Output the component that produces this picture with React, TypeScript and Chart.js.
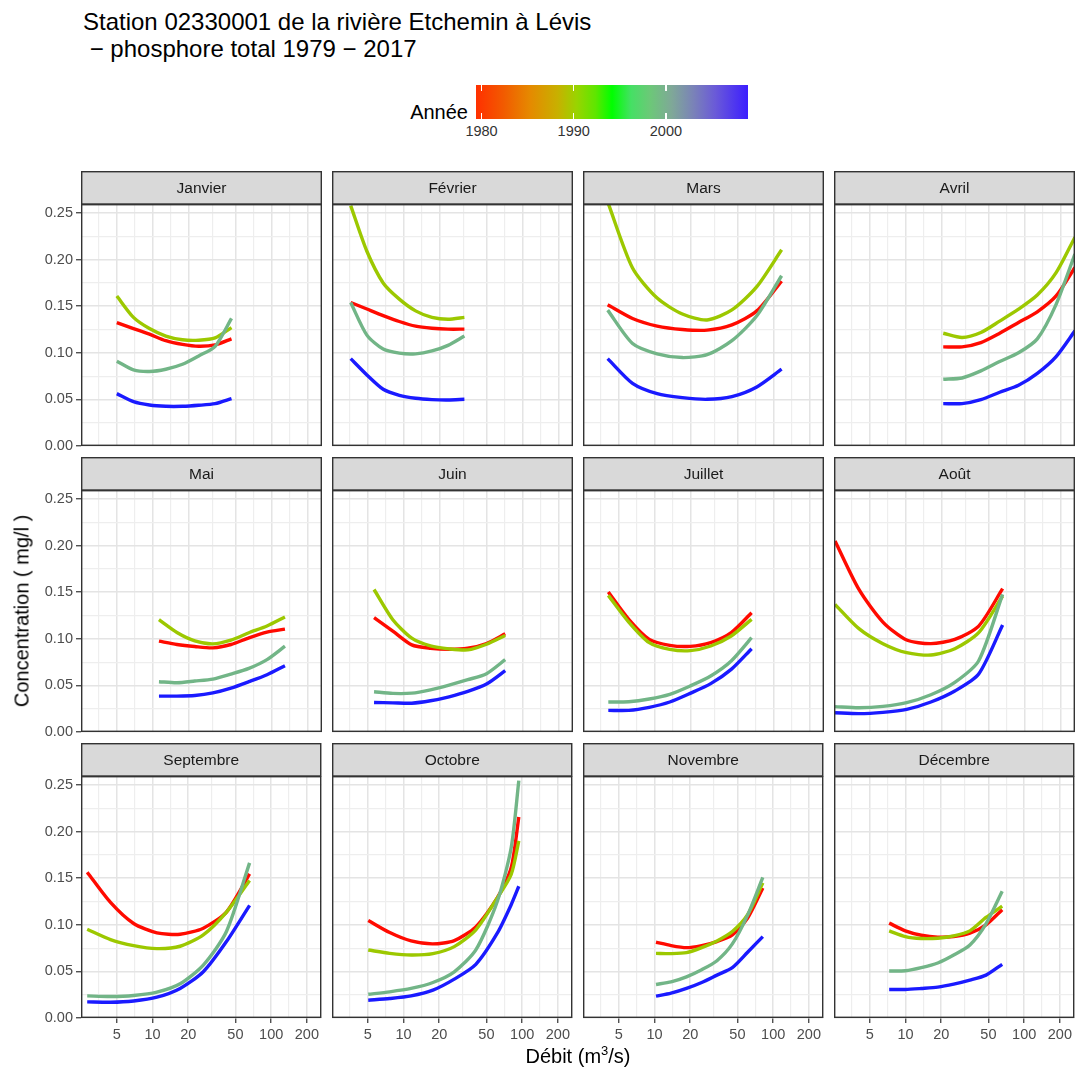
import React, { useEffect, useRef } from 'react';
import { Chart, registerables } from 'chart.js';

Chart.register(...registerables);

const FONT = "'Liberation Sans', Arial, Helvetica, sans-serif";

// ---------------- data ----------------
const months = ['Janvier', 'Février', 'Mars', 'Avril', 'Mai', 'Juin', 'Juillet', 'Août', 'Septembre', 'Octobre', 'Novembre', 'Décembre'];
const years = [1979, 1989, 1999, 2009];
const yearColors = ['#ff0a00', '#9cc800', '#72b587', '#1a1aff'];

const xMajorTicks = [5, 10, 20, 50, 100, 200];
const xMinorBreaks = [3.54, 7.07, 14.1, 31.6, 70.7, 141];
const yMajorTicks = [0, 0.05, 0.1, 0.15, 0.2, 0.25];
const yMinorBreaks = [0.025, 0.075, 0.125, 0.175, 0.225];
const legendTicks = [1980, 1990, 2000];
const legendRange = [1979.4, 2008.9];

// débit (m3/s), one list per month
const debit = [
  [5.0, 6.9, 9.4, 12.9, 17.8, 24.4, 33.5, 46.0],
  [3.59, 4.91, 6.73, 9.2, 12.6, 17.3, 23.6, 32.4],
  [4.03, 6.52, 10.5, 17.1, 27.6, 44.6, 72.2, 116.7],
  [20.7, 29.8, 42.9, 61.7, 88.8, 127.8, 183.9, 264.6],
  [11.3, 16.0, 22.6, 32.1, 45.5, 64.4, 91.4, 129.4],
  [5.64, 8.11, 11.7, 16.8, 24.1, 34.6, 49.7, 71.4],
  [4.08, 6.06, 9.01, 13.4, 19.9, 29.6, 44.0, 65.3],
  [2.55, 4.05, 6.44, 10.2, 16.3, 25.9, 41.1, 65.3],
  [2.82, 4.43, 6.94, 10.9, 17.1, 26.8, 42.0, 65.8],
  [5.05, 7.66, 11.6, 17.7, 26.8, 40.7, 61.7, 80.8, 93.7],
  [10.3, 13.8, 18.6, 25.0, 33.6, 45.3, 60.9, 81.8],
  [7.29, 9.97, 13.6, 18.7, 25.5, 34.9, 47.7, 65.3],
];

// concentration (mg/l) for 1979
const conc1979 = [
  [0.1325, 0.126, 0.120, 0.113, 0.109, 0.107, 0.1085, 0.115],
  [0.154, 0.147, 0.140, 0.1336, 0.1286, 0.1264, 0.1254, 0.1254],
  [0.1515, 0.1368, 0.1286, 0.125, 0.1243, 0.130, 0.145, 0.177],
  [0.1064, 0.1064, 0.111, 0.121, 0.1325, 0.144, 0.161, 0.1916],
  [0.0975, 0.0939, 0.0917, 0.0903, 0.0939, 0.1011, 0.1072, 0.1104],
  [0.1227, 0.1083, 0.0935, 0.0899, 0.0888, 0.0899, 0.095, 0.1054],
  [0.1502, 0.1209, 0.0994, 0.093, 0.0919, 0.0959, 0.1066, 0.128],
  [0.205, 0.153, 0.118, 0.0987, 0.0948, 0.0994, 0.1137, 0.1538],
  [0.1565, 0.124, 0.1014, 0.0914, 0.0899, 0.0964, 0.1137, 0.1547],
  [0.1047, 0.0917, 0.0827, 0.0795, 0.0831, 0.0978, 0.1288, 0.1612, 0.2158],
  [0.0813, 0.0777, 0.0755, 0.0777, 0.082, 0.0892, 0.1072, 0.1396],
  [0.1018, 0.0935, 0.0888, 0.0867, 0.0874, 0.091, 0.100, 0.1162],
];

// concentration (mg/l) for 1989
const conc1989 = [
  [0.161, 0.138, 0.126, 0.118, 0.114, 0.1135, 0.116, 0.127],
  [0.258, 0.209, 0.175, 0.1576, 0.145, 0.138, 0.136, 0.138],
  [0.262, 0.191, 0.1587, 0.1416, 0.1352, 0.146, 0.171, 0.2106],
  [0.121, 0.1164, 0.1218, 0.134, 0.1468, 0.162, 0.186, 0.224],
  [0.1205, 0.1068, 0.0978, 0.0946, 0.0986, 0.1065, 0.1137, 0.1234],
  [0.1529, 0.1205, 0.1007, 0.0924, 0.0892, 0.0881, 0.0942, 0.1036],
  [0.1466, 0.118, 0.0959, 0.0887, 0.0873, 0.0923, 0.103, 0.1209],
  [0.137, 0.1109, 0.0948, 0.0851, 0.0826, 0.0894, 0.1066, 0.1459],
  [0.0953, 0.0842, 0.0777, 0.0745, 0.077, 0.0892, 0.1137, 0.1475],
  [0.073, 0.0694, 0.0676, 0.0691, 0.0766, 0.0946, 0.1288, 0.154, 0.190],
  [0.0694, 0.0691, 0.0701, 0.0755, 0.0827, 0.0928, 0.1108, 0.145],
  [0.0935, 0.0874, 0.0853, 0.0856, 0.0881, 0.0935, 0.1079, 0.12],
];

// concentration (mg/l) for 1999
const conc1999 = [
  [0.091, 0.0817, 0.080, 0.0824, 0.0877, 0.0967, 0.107, 0.137],
  [0.154, 0.119, 0.104, 0.0996, 0.0989, 0.102, 0.108, 0.118],
  [0.1458, 0.110, 0.0989, 0.0949, 0.098, 0.113, 0.1397, 0.1827],
  [0.0716, 0.073, 0.0806, 0.0906, 0.100, 0.115, 0.152, 0.206],
  [0.054, 0.0529, 0.0547, 0.0568, 0.0622, 0.0683, 0.0777, 0.0921],
  [0.0432, 0.0414, 0.0417, 0.0453, 0.0504, 0.0561, 0.0626, 0.0777],
  [0.0322, 0.0325, 0.0354, 0.0404, 0.0494, 0.0601, 0.0762, 0.1012],
  [0.0272, 0.0261, 0.0275, 0.0315, 0.04, 0.0533, 0.0765, 0.1477],
  [0.0237, 0.023, 0.0241, 0.0277, 0.0367, 0.0568, 0.0928, 0.1665],
  [0.0255, 0.0281, 0.0317, 0.0381, 0.0496, 0.073, 0.125, 0.1827, 0.2547],
  [0.036, 0.0388, 0.0442, 0.0518, 0.0615, 0.0795, 0.1104, 0.151],
  [0.0504, 0.0507, 0.054, 0.059, 0.0676, 0.0784, 0.1011, 0.136],
];

// concentration (mg/l) for 2009
const conc2009 = [
  [0.0562, 0.0476, 0.044, 0.0426, 0.0426, 0.0437, 0.0455, 0.0509],
  [0.0938, 0.0763, 0.0609, 0.0544, 0.0512, 0.0498, 0.0494, 0.0501],
  [0.0938, 0.0673, 0.0562, 0.0519, 0.0501, 0.053, 0.0634, 0.0824],
  [0.0455, 0.0455, 0.0498, 0.0577, 0.0652, 0.078, 0.096, 0.1236],
  [0.0385, 0.0385, 0.0392, 0.042, 0.0471, 0.054, 0.0615, 0.0712],
  [0.0317, 0.0313, 0.0309, 0.0335, 0.0378, 0.0435, 0.0514, 0.0658],
  [0.0232, 0.0232, 0.0265, 0.0322, 0.0415, 0.0519, 0.0672, 0.0894],
  [0.0207, 0.0197, 0.0211, 0.0243, 0.0322, 0.044, 0.0622, 0.1148],
  [0.0173, 0.0169, 0.0183, 0.0223, 0.0317, 0.0496, 0.082, 0.1209],
  [0.0191, 0.0209, 0.0237, 0.0299, 0.0417, 0.0576, 0.091, 0.1216, 0.1414],
  [0.0234, 0.0266, 0.0317, 0.0381, 0.046, 0.054, 0.0705, 0.0874],
  [0.0306, 0.0306, 0.0317, 0.0331, 0.0363, 0.0406, 0.046, 0.0576],
];

const concByYear = [conc1979, conc1989, conc1999, conc2009];

// ---------------- layout ----------------
const PANEL_W = 241;
const PLOT_H = 242;
const STRIP_H = 33;
const COL_X = 81;
const COL_STEP = 251;
const ROW_Y = 171;
const ROW_STEP = 286;
const Y_AXIS_W = 50;
const X_AXIS_H = 32;
const X_AXIS_H_INNER = 13;
const X_MIN = 2.5;
const X_MAX = 265;
const Y_MAX = 0.2597;

const isMajorX = (v: number) => xMajorTicks.some((t) => Math.abs(t - v) < 1e-6);
const isMajorY = (v: number) => yMajorTicks.some((t) => Math.abs(t - v) < 1e-6);

const stripPlugin = {
  id: 'facetStrip',
  afterDraw(chart: any, _args: any, opts: any) {
    const { ctx, chartArea } = chart;
    const { left, right, top, bottom } = chartArea;
    const w = right - left;
    ctx.save();
    ctx.fillStyle = '#d9d9d9';
    ctx.fillRect(left, top - STRIP_H, w, STRIP_H);
    ctx.strokeStyle = '#333333';
    ctx.lineWidth = 1.4;
    ctx.strokeRect(left + 0.7, top - STRIP_H + 0.7, w - 1.4, STRIP_H - 0.7);
    ctx.fillStyle = '#1a1a1a';
    ctx.font = `15.5px ${FONT}`;
    ctx.textAlign = 'center';
    ctx.textBaseline = 'middle';
    ctx.fillText(opts.text, left + w / 2, top - STRIP_H / 2 + 1);
    ctx.strokeRect(left + 0.7, top + 0.7, w - 1.4, bottom - top - 1.4);
    ctx.restore();
  },
};

function Panel({ idx }: { idx: number }) {
  const ref = useRef<HTMLCanvasElement>(null);
  const row = Math.floor(idx / 4);
  const col = idx % 4;
  const leftAxis = col === 0;
  const bottomAxis = row === 2;
  const axisW = leftAxis ? Y_AXIS_W : 0;
  const axisH = bottomAxis ? X_AXIS_H : X_AXIS_H_INNER;
  const width = PANEL_W + axisW;
  const height = STRIP_H + PLOT_H + axisH;
  const left = COL_X + col * COL_STEP - axisW;
  const top = ROW_Y + row * ROW_STEP;

  useEffect(() => {
    const canvas = ref.current;
    if (!canvas) return;
    const datasets = years
      .map((yr, k) => ({
        label: String(yr),
        data: debit[idx].map((x, i) => ({ x, y: concByYear[k][idx][i] })),
        borderColor: yearColors[k],
        backgroundColor: yearColors[k],
        borderWidth: 3.4,
        pointRadius: 0,
        tension: 0.25,
        fill: false,
        clip: 0,
      }))
      .reverse();

    const tickFont = { family: FONT, size: 14.5 };
    const majorGrid = '#e4e4e4';
    const minorGrid = '#eeeeee';
    const chart = new Chart(canvas, {
      type: 'line',
      data: { datasets },
      plugins: [stripPlugin],
      options: {
        animation: false,
        responsive: false,
        events: [],
        layout: { padding: { top: STRIP_H, left: 0, right: 0, bottom: 0 } },
        plugins: {
          legend: { display: false },
          title: { display: false },
          tooltip: { enabled: false },
          facetStrip: { text: months[idx] },
        } as any,
        scales: {
          x: {
            type: 'logarithmic',
            min: X_MIN,
            max: X_MAX,
            afterBuildTicks: (scale: any) => {
              scale.ticks = [...xMinorBreaks, ...xMajorTicks]
                .sort((a, b) => a - b)
                .map((v) => ({ value: v, major: false }));
            },
            afterFit: (scale: any) => {
              scale.height = axisH;
            },
            border: { display: false },
            grid: {
              drawTicks: bottomAxis,
              tickLength: 5,
              color: (c: any) => (c.tick && isMajorX(c.tick.value) ? majorGrid : minorGrid),
              lineWidth: (c: any) => (c.tick && isMajorX(c.tick.value) ? 1.5 : 1.2),
              tickColor: (c: any) => (c.tick && isMajorX(c.tick.value) ? '#333333' : 'rgba(0,0,0,0)'),
              tickWidth: 1.2,
            },
            ticks: {
              display: bottomAxis,
              autoSkip: false,
              maxRotation: 0,
              minRotation: 0,
              padding: 3,
              color: '#4d4d4d',
              font: tickFont,
              callback: (v: any) => (isMajorX(Number(v)) ? String(Number(v)) : ''),
            },
          },
          y: {
            type: 'linear',
            min: 0,
            max: Y_MAX,
            afterBuildTicks: (scale: any) => {
              scale.ticks = [...yMajorTicks, ...yMinorBreaks]
                .sort((a, b) => a - b)
                .map((v) => ({ value: v }));
            },
            afterFit: (scale: any) => {
              scale.width = axisW;
            },
            border: { display: false },
            grid: {
              drawTicks: leftAxis,
              tickLength: 5,
              color: (c: any) => (c.tick && isMajorY(c.tick.value) ? majorGrid : minorGrid),
              lineWidth: (c: any) => (c.tick && isMajorY(c.tick.value) ? 1.5 : 1.2),
              tickColor: (c: any) => (c.tick && isMajorY(c.tick.value) ? '#333333' : 'rgba(0,0,0,0)'),
              tickWidth: 1.2,
            },
            ticks: {
              display: leftAxis,
              autoSkip: false,
              padding: 3,
              color: '#4d4d4d',
              font: tickFont,
              callback: (v: any) => (isMajorY(Number(v)) ? Number(v).toFixed(2) : ''),
            },
          },
        },
      } as any,
    });
    return () => chart.destroy();
  }, [idx]);

  return (
    <canvas
      ref={ref}
      width={width}
      height={height}
      style={{ position: 'absolute', left, top, width, height }}
    />
  );
}

function ColorLegend() {
  const barLeft = 476;
  const barTop = 85;
  const barW = 272;
  const barH = 34;
  const toX = (yr: number) => ((yr - legendRange[0]) / (legendRange[1] - legendRange[0])) * barW;
  const gradient =
    'linear-gradient(to right, #ff3000 0%, #f25a00 10%, #e58a00 20%, #c8b000 30%, #99d400 37%, #5ee600 44%, #00ff00 50%, #45e064 57%, #6cc878 64%, #7fa898 72%, #7a82b8 80%, #6a5ad8 88%, #3c1eff 100%)';
  return (
    <>
      <div
        style={{
          position: 'absolute',
          left: barLeft - 8 - 80,
          width: 80,
          top: barTop + barH / 2 - 14,
          height: 28,
          lineHeight: '28px',
          textAlign: 'right',
          fontFamily: FONT,
          fontSize: 20,
          color: '#000',
          paddingTop: 10,
        }}
      >
        Année
      </div>
      <div style={{ position: 'absolute', left: barLeft, top: barTop, width: barW, height: barH, background: gradient }}>
        {legendTicks.map((yr) => (
          <React.Fragment key={yr}>
            <div style={{ position: 'absolute', left: toX(yr) - 0.75, top: 0, width: 1.5, height: 6, background: '#fff' }} />
            <div style={{ position: 'absolute', left: toX(yr) - 0.75, bottom: 0, width: 1.5, height: 6, background: '#fff' }} />
          </React.Fragment>
        ))}
      </div>
      {legendTicks.map((yr) => (
        <div
          key={'l' + yr}
          style={{
            position: 'absolute',
            left: barLeft + toX(yr) - 30,
            width: 60,
            top: barTop + barH + 3,
            textAlign: 'center',
            fontFamily: FONT,
            fontSize: 14.5,
            lineHeight: '18px',
            color: '#333',
          }}
        >
          {yr}
        </div>
      ))}
    </>
  );
}

export default function App() {
  return (
    <div
      style={{
        position: 'absolute',
        left: 0,
        top: 0,
        width: 1075,
        height: 1072,
        background: '#fff',
        overflow: 'hidden',
        fontFamily: FONT,
      }}
    >
      <div
        style={{
          position: 'absolute',
          left: 83,
          top: 8,
          fontSize: 24,
          lineHeight: '27px',
          color: '#000',
          whiteSpace: 'pre',
        }}
      >
        {'Station 02330001 de la rivière Etchemin à Lévis\n − phosphore total 1979 − 2017'}
      </div>
      <ColorLegend />
      {months.map((m, i) => (
        <Panel key={m} idx={i} />
      ))}
      <div
        style={{
          position: 'absolute',
          left: 22,
          top: 611,
          transform: 'translate(-50%, -50%) rotate(-90deg)',
          whiteSpace: 'nowrap',
          fontSize: 20,
          color: '#000',
        }}
      >
        Concentration ( mg/l )
      </div>
      <div
        style={{
          position: 'absolute',
          left: 578,
          top: 1056,
          transform: 'translate(-50%, -50%)',
          whiteSpace: 'nowrap',
          fontSize: 20,
          color: '#000',
        }}
      >
        Débit (m<sup style={{ fontSize: 13, verticalAlign: 'super', lineHeight: 0 }}>3</sup>/s)
      </div>
    </div>
  );
}
